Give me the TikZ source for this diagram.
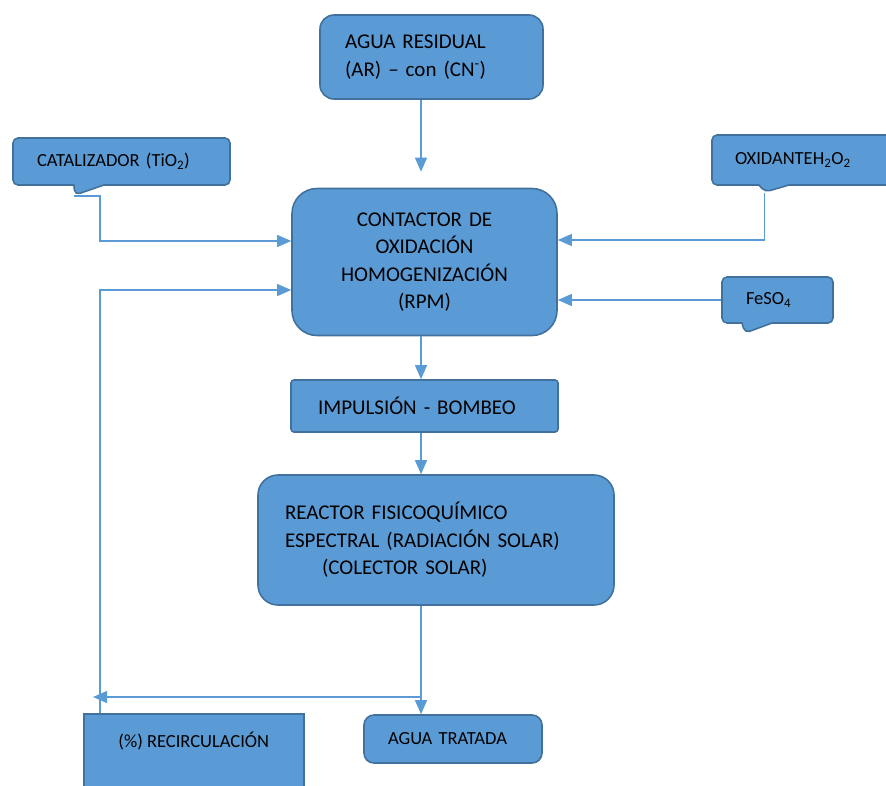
\documentclass[tikz,border=0pt]{standalone}
\usepackage{fontspec}
\setmainfont{Carlito}
\usetikzlibrary{arrows.meta,shapes.callouts}
\definecolor{boxfill}{HTML}{5B9BD5}
\definecolor{boxline}{HTML}{41719C}
\begin{document}
\begin{tikzpicture}[x=1pt,y=-1pt,
    box/.style={draw=boxline,fill=boxfill,line width=1.6pt,inner sep=0pt,
      font=\fontsize{21}{27.5}\selectfont},
    small/.style={font=\fontsize{18.5}{22}\selectfont},
    note/.style={rectangle callout,draw=boxline,fill=boxfill,line width=1.6pt,
      rounded corners=5pt,inner sep=0pt,callout pointer width=30pt,
      align=left,font=\fontsize{18.5}{22}\selectfont},
    flow/.style={draw=boxfill,line width=1.2pt,
      -{Triangle[width=12pt,length=14pt]}}]
  \useasboundingbox (0,0) rectangle (886,785);

  \node[box,rounded corners=14pt,minimum width=223pt,minimum height=84pt,
    text width=173pt,align=left] (res) at (431.5,57)
    {AGUA RESIDUAL\\(AR) – con (CN\textsuperscript{-})};
  \node[box,rounded corners=25pt,minimum width=265pt,minimum height=147pt,
    text width=230pt,align=center] (cont) at (424.5,262)
    {CONTACTOR DE\\OXIDACIÓN\\HOMOGENIZACIÓN\\(RPM)};
  \node[box,rounded corners=3pt,minimum width=267pt,minimum height=52pt,
    text width=213pt,align=left] (imp) at (424.5,406)
    {IMPULSIÓN - BOMBEO};
  \node[box,rounded corners=20pt,minimum width=356pt,minimum height=130pt,
    text width=302pt,align=left] (rea) at (436,540)
    {REACTOR FISICOQUÍMICO\\ESPECTRAL (RADIACIÓN SOLAR)\\\hspace*{37pt}(COLECTOR SOLAR)};
  \node[box,small,minimum width=220pt,minimum height=90pt,text height=14pt,
    text depth=36pt,anchor=north west] (rec) at (83,713)
    {(\%) RECIRCULACIÓN};
  \node[box,small,rounded corners=10pt,minimum width=178pt,minimum height=48pt,
    text width=130pt,align=left] (agua) at (453,739)
    {AGUA TRATADA};

  \node[note,minimum width=217pt,minimum height=47pt,text width=169pt,
    callout absolute pointer={(75,195)}] (cat) at (121.5,161.5)
    {CATALIZADOR (TiO\textsubscript{2})};
  \node[note,minimum width=188pt,minimum height=50pt,text width=142pt,
    callout absolute pointer={(765,192)}] (oxi) at (806,160)
    {OXIDANTEH\textsubscript{2}O\textsubscript{2}};
  \node[note,minimum width=111pt,minimum height=46pt,text width=63pt,
    callout absolute pointer={(745,333)}] (fe) at (777.5,300)
    {FeSO\textsubscript{4}};

  \coordinate (spine) at (421,0);
  \coordinate (catbend) at (100,241);
  \coordinate (split) at (421,697);

  \draw[flow] (spine |- res.south) -- ([yshift=16pt]spine |- cont.north);
  \draw[flow] (cat.pointer) -| (catbend) -- (catbend -| cont.west);
  \draw[flow] (oxi.pointer) |- ([yshift=22pt]cont.east);
  \draw[flow] (fe.west) -- (fe.west -| cont.east);
  \draw[flow] ([xshift=17pt]rec.north west) |- ([yshift=-28pt]cont.west);
  \draw[flow] (spine |- cont.south) -- (spine |- imp.north);
  \draw[flow] (spine |- imp.south) -- (spine |- rea.north);
  \draw[flow] (spine |- rea.south) -- (spine |- agua.north);
  \draw[flow] (split) -- ([xshift=10pt]split -| rec.west);
\end{tikzpicture}
\end{document}
